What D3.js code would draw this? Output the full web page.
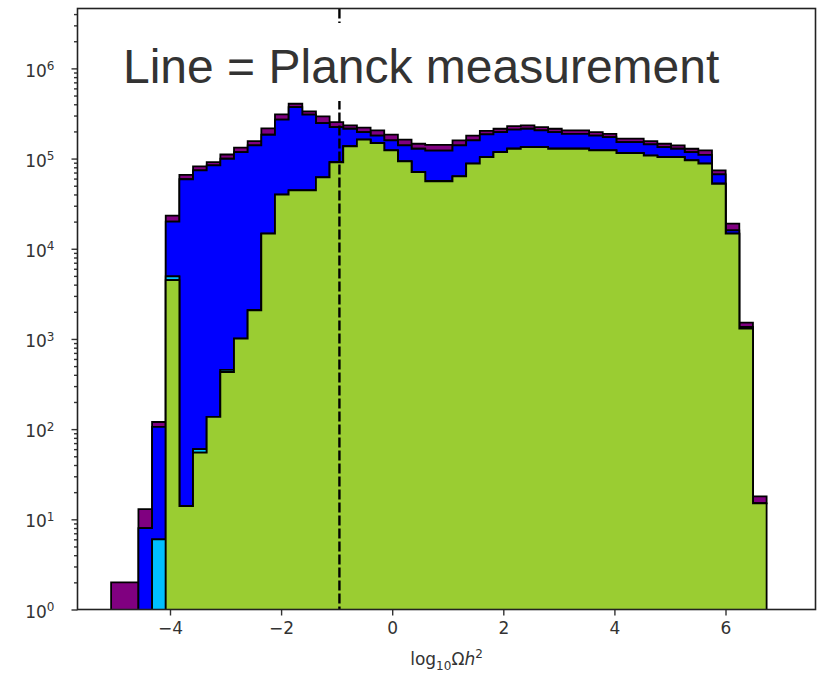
<!DOCTYPE html>
<html>
<head>
<meta charset="utf-8">
<script src="https://cdn.jsdelivr.net/npm/d3@7"></script>
<style>
  body { margin: 0; background: #fff; }
  svg { display: block; }
</style>
</head>
<body>
<div id="chart"></div>
<script>
// DATA (48 equal bins in log10 Omega h^2)
var binLo = -5.06, binHi = 6.74, nBins = 48;

var green = [0, 0, 0, 0, 4500, 14, 55, 137, 430, 1010, 2080, 14700, 39800, 44400, 44400, 62000,
  91000, 137000, 162000, 148000, 123000, 93000, 70800, 55800, 55800, 63400, 87700, 104000, 118000, 128500, 134000, 134000,
  128500, 128500, 128500, 123000, 123000, 115000, 115000, 108000, 104000, 104000, 95400, 87700, 52600, 14700, 1300, 15];
var cyan = [0, 0, 0, 6, 450, 0, 5, 0, 25, 0, 0, 0, 0, 0, 0, 0,
  0, 0, 0, 0, 0, 0, 0, 600, 600, 0, 0, 0, 0, 0, 0, 0,
  0, 0, 0, 0, 0, 0, 0, 0, 0, 0, 0, 0, 0, 0, 0, 0];
var blue = [0, 0, 8, 100, 15000, 59000, 74000, 84000, 99100, 117000, 138000, 169000, 231000, 328000, 262000, 185000,
  132000, 77000, 34000, 32000, 36000, 47000, 57700, 66400, 66400, 76600, 71300, 81000, 78000, 80500, 80000, 71000,
  67500, 59500, 59500, 57000, 50000, 37000, 37000, 35500, 30000, 24500, 22600, 22300, 14100, 1300, 60, 0];
var purple = [2, 2, 5, 14, 3300, 7000, 8000, 7000, 11400, 14000, 16000, 33000, 39000, 33000, 27000, 46000,
  30000, 19000, 24000, 25000, 25000, 22000, 17500, 19000, 19000, 19000, 21000, 18000, 18000, 20000, 19000, 18000,
  18000, 17000, 17000, 16000, 15000, 14000, 14000, 12500, 12000, 11500, 10500, 13000, 7300, 3000, 160, 3];

var xTicks = [-4, -2, 0, 2, 4, 6];
var yExponents = [0, 1, 2, 3, 4, 5, 6];
var planck = -0.95;
var note = "Line = Planck measurement";

// LAYOUT
var plot = {left: 77.5, right: 815.5, top: 8.5, bottom: 609.5};
var svg = d3.select("#chart").append("svg")
  .attr("width", 821)
  .attr("height", 684);

var x = d3.scaleLinear().domain([-5.665, 7.62]).range([plot.left, plot.right]);
var y = d3.scaleLog().domain([1, Math.pow(10, 6.664)]).range([plot.bottom, plot.top]);

var step = (binHi - binLo) / nBins;
var edges = d3.range(nBins + 1).map(function(i) { return binLo + i * step; });

// stack bottom to top: green, cyan, blue, purple
var series = [green, cyan, blue, purple];
var colours = ["#9acd32", "#00bfff", "#0000ff", "#800080"];
var layers = [];
var cum = green.map(function() { return 0; });
series.forEach(function(s, k) {
  var bot = cum.slice();
  cum = cum.map(function(c, i) { return c + s[i]; });
  layers.push({bot: bot, top: cum.slice(), colour: colours[k]});
});

function yv(v) { return v > 0 ? y(v) : plot.bottom + 40; }

function outline(layer) {
  var pts = [];
  for (var i = 0; i < nBins; i++) {
    pts.push([x(edges[i]), yv(layer.top[i])]);
    pts.push([x(edges[i + 1]), yv(layer.top[i])]);
  }
  for (var j = nBins - 1; j >= 0; j--) {
    pts.push([x(edges[j + 1]), yv(layer.bot[j])]);
    pts.push([x(edges[j]), yv(layer.bot[j])]);
  }
  return pts;
}

svg.append("clipPath").attr("id", "clip")
  .append("rect")
  .attr("x", plot.left).attr("y", plot.top)
  .attr("width", plot.right - plot.left)
  .attr("height", plot.bottom - plot.top);

var chart = svg.append("g").attr("clip-path", "url(#clip)");

// like matplotlib: upper layers drawn first
chart.selectAll("path.layer")
  .data(layers.slice().reverse())
  .enter()
  .append("path")
  .attr("class", "layer")
  .attr("d", function(d) { return "M" + outline(d).join("L") + "Z"; })
  .attr("fill", function(d) { return d.colour; })
  .attr("stroke", "#000")
  .attr("stroke-width", 1.8)
  .attr("stroke-linejoin", "miter");

// Planck line
chart.append("line")
  .attr("x1", x(planck)).attr("x2", x(planck))
  .attr("y1", plot.top).attr("y2", plot.bottom)
  .attr("stroke", "#000")
  .attr("stroke-width", 2.4)
  .attr("stroke-dasharray", "10,3");

// Axes
var minor = [];
yExponents.forEach(function(e) {
  d3.range(2, 10).forEach(function(m) {
    var v = m * Math.pow(10, e);
    if (v < y.domain()[1]) minor.push(v);
  });
});

var gyMinor = svg.append("g").attr("transform", "translate(" + plot.left + ",0)")
  .call(d3.axisLeft(y).tickValues(minor).tickSize(3.5).tickFormat(""));
var gy = svg.append("g").attr("transform", "translate(" + plot.left + ",0)")
  .call(d3.axisLeft(y).tickValues(yExponents.map(function(e) { return Math.pow(10, e); }))
    .tickSize(6).tickPadding(17).tickFormat(""));
var gx = svg.append("g").attr("transform", "translate(0," + plot.bottom + ")")
  .call(d3.axisBottom(x).tickValues(xTicks).tickSize(6).tickPadding(6)
    .tickFormat(function(d) { return d < 0 ? "\u2212" + Math.abs(d) : d; }));

[gyMinor, gy, gx].forEach(function(g) {
  g.select(".domain").remove();
  g.selectAll(".tick line").attr("stroke", "#333").attr("stroke-width", 1.4);
  g.selectAll(".tick text")
    .attr("fill", "#333")
    .style("font-family", "DejaVu Sans")
    .style("font-size", "17px");
});

gy.selectAll(".tick text").each(function(d, i) {
  var t = d3.select(this).text(null).attr("dy", "0.45em");
  t.append("tspan").text("10");
  t.append("tspan").attr("dy", "-0.55em").style("font-size", "12px").text(yExponents[i]);
});

// x label
var xl = svg.append("text")
  .attr("x", (plot.left + plot.right) / 2)
  .attr("y", 665)
  .attr("text-anchor", "middle")
  .attr("fill", "#333")
  .style("font-family", "DejaVu Sans")
  .style("font-size", "17px");
xl.append("tspan").text("log");
xl.append("tspan").attr("dy", 5).style("font-size", "12px").text("10");
xl.append("tspan").attr("dy", -5).text("\u03a9");
xl.append("tspan").style("font-style", "italic").text("h");
xl.append("tspan").attr("dy", -7).style("font-size", "12px").text("2");

// frame
svg.append("rect")
  .attr("x", plot.left).attr("y", plot.top)
  .attr("width", plot.right - plot.left)
  .attr("height", plot.bottom - plot.top)
  .attr("fill", "none")
  .attr("stroke", "#222")
  .attr("stroke-width", 1.6);

// note with white box behind it
svg.append("rect")
  .attr("x", 110).attr("y", 23)
  .attr("width", 625).attr("height", 78)
  .attr("fill", "#fff");
svg.append("text")
  .attr("x", 123).attr("y", 83)
  .attr("fill", "#333")
  .style("font-family", "Liberation Sans, Arial, sans-serif")
  .style("font-size", "48px")
  .text(note);
</script>
</body>
</html>
